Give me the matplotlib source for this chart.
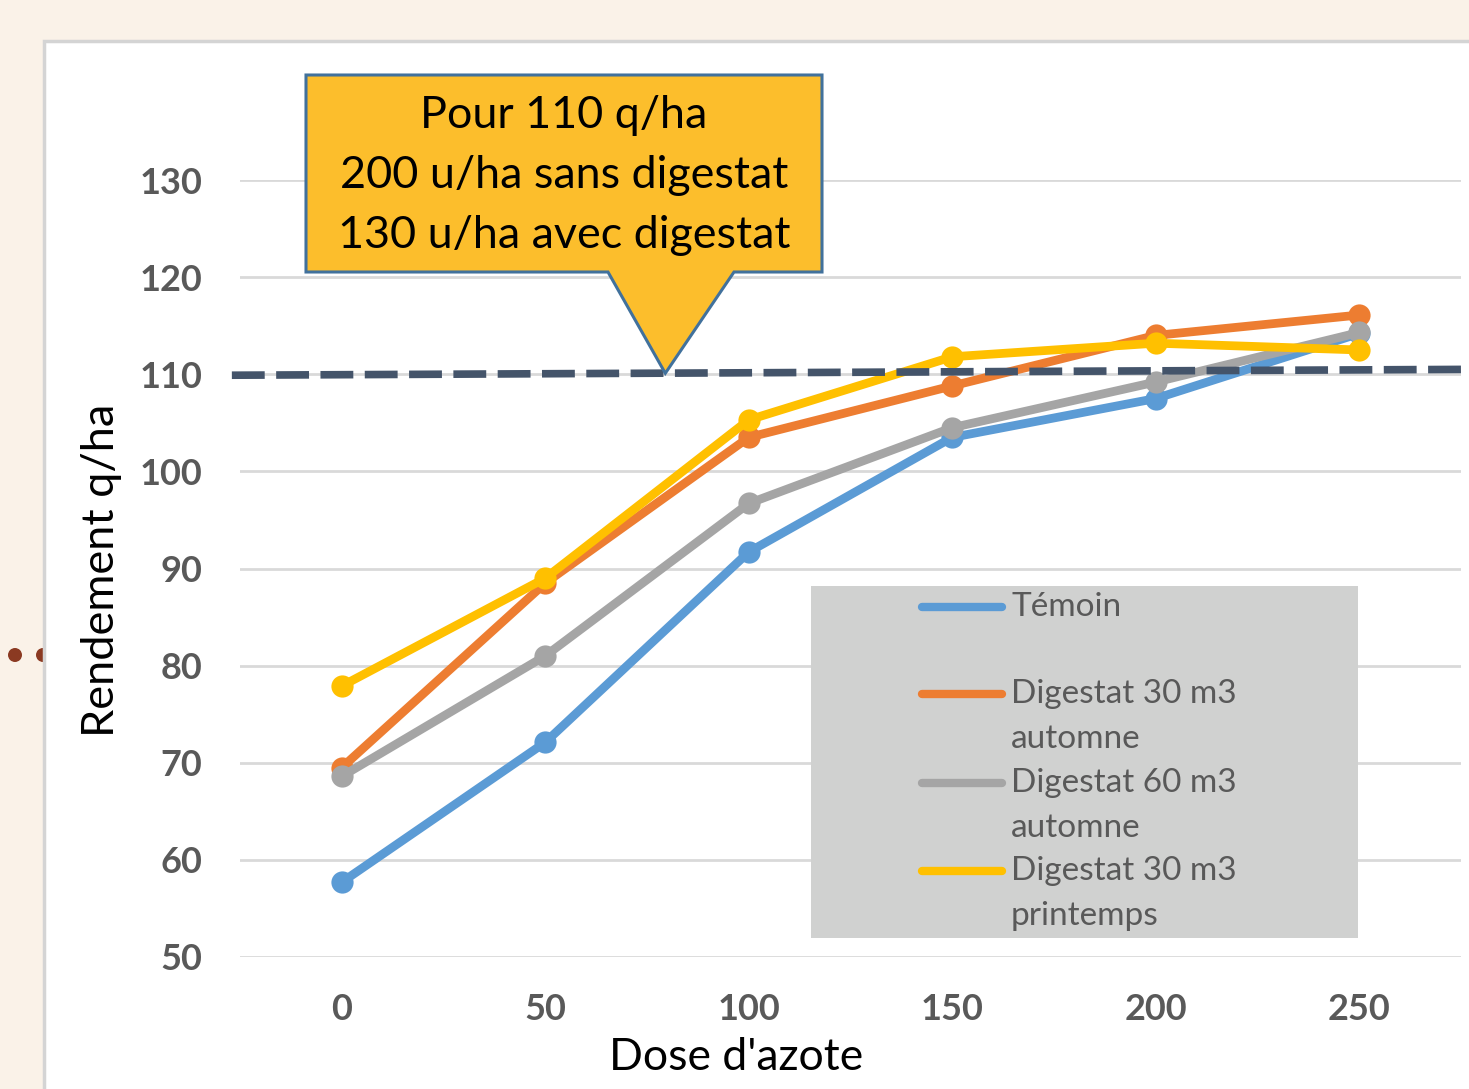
import matplotlib
matplotlib.use("Agg")
import matplotlib.pyplot as plt
from matplotlib.patches import Rectangle, Ellipse, Polygon
from matplotlib.lines import Line2D

# ---- data ----
doses = [0, 50, 100, 150, 200, 250]
series_names = ["Témoin", "Digestat 30 m3\nautomne", "Digestat 60 m3\nautomne", "Digestat 30 m3\nprintemps"]
temoin = [57.7, 72.1, 91.7, 103.5, 107.5, 114.2]
dig30_aut = [69.5, 88.5, 103.5, 108.8, 114.0, 116.1]
dig60_aut = [68.6, 81.0, 96.7, 104.5, 109.2, 114.3]
dig30_pri = [77.9, 89.0, 105.3, 111.8, 113.2, 112.5]
series_values = [temoin, dig30_aut, dig60_aut, dig30_pri]
colors = ["#5B9BD5", "#ED7D31", "#A5A5A5", "#FFC000"]
y_ticks = [50, 60, 70, 80, 90, 100, 110, 120, 130]
target_x = [-27, 275]
target_y = [109.9, 110.5]
callout_lines = ["Pour 110 q/ha", "200 u/ha sans digestat", "130 u/ha avec digestat"]
callout_tip = (79.5, 110.1)

FONT = ["Lato", "DejaVu Sans"]
plt.rcParams["font.family"] = FONT

W, H = 1469, 1089
fig = plt.figure(figsize=(W / 100, H / 100), dpi=100)
fig.patch.set_facecolor("#FAF2E8")

def fx(px):
    return px / W

def fy(py):
    return 1 - py / H

# brown bullet dots (behind panel)
for cx in (15, 43):
    fig.patches.append(Ellipse((fx(cx), fy(655)), 14 / W, 14 / H, transform=fig.transFigure,
                               facecolor="#8B3A22", edgecolor="none", zorder=0))
# white panel
fig.patches.append(Rectangle((fx(44), fy(1100)), fx(1500), (1100 - 41) / H, transform=fig.transFigure,
                             facecolor="white", edgecolor="#D4D4D4", linewidth=2.5, zorder=1))

ax = fig.add_axes([fx(240), fy(957), fx(1461) - fx(240), fy(180) - fy(957)])
ax.set_facecolor("none")
ax.set_zorder(2)
ax.set_xlim(-25, 275)
ax.set_ylim(50, 130)
for s in ax.spines.values():
    s.set_visible(False)
ax.set_yticks(y_ticks)
ax.set_xticks(doses)
ax.tick_params(length=0, labelsize=26, labelcolor="#595959")
ax.tick_params(axis="y", pad=27)
ax.tick_params(axis="x", pad=26)
for lbl in ax.get_xticklabels() + ax.get_yticklabels():
    lbl.set_fontweight("bold")
ax.grid(axis="y", color="#D9D9D9", linewidth=2)
ax.set_axisbelow(True)

for vals, c in zip(series_values, colors):
    ax.plot(doses, vals, color=c, linewidth=6.3, marker="o", markersize=16,
            markeredgewidth=0, solid_capstyle="round", zorder=3)

ax.plot(target_x, target_y, color="#44546A", linewidth=5.5, dashes=(4.3, 1.5), zorder=4, clip_on=False)

fig.text(fx(102), fy(570), "Rendement q/ha", rotation=90, ha="center", va="center", fontsize=32.5, color="black")
fig.text(fx(736), fy(1057), "Dose d'azote", ha="center", va="center", fontsize=32, color="black")

# callout
tip_disp = ax.transData.transform(callout_tip)
tip = fig.transFigure.inverted().transform(tip_disp)
pts = [(fx(306), fy(75)), (fx(822), fy(75)), (fx(822), fy(272)), (fx(734), fy(272)),
       tuple(tip), (fx(608), fy(272)), (fx(306), fy(272))]
fig.patches.append(Polygon(pts, closed=True, transform=fig.transFigure, facecolor="#FCBE2C",
                           edgecolor="#41719C", linewidth=2.2, zorder=5))
for i, t in enumerate(callout_lines):
    fig.text(fx(564), fy(116 + 60 * i), t, ha="center", va="center", fontsize=32.3, color="black", zorder=6)

# legend box
fig.patches.append(Rectangle((fx(811), fy(938)), fx(1358) - fx(811), (938 - 586) / H,
                             transform=fig.transFigure, facecolor="#D0D1D0", edgecolor="none", zorder=5))
entry_y = [607, 694, 783, 871]
for name, c, ey in zip(series_names, colors, entry_y):
    fig.lines.append(Line2D([fx(922), fx(1002)], [fy(ey), fy(ey)], transform=fig.transFigure,
                            color=c, linewidth=6, solid_capstyle="round", zorder=6))
    for j, part in enumerate(name.split("\n")):
        fig.text(fx(1011), fy(ey + 45 * j), part, ha="left", va="center", fontsize=24,
                 color="#595959", zorder=7)

fig.savefig("out.png", dpi=100, facecolor=fig.get_facecolor())
